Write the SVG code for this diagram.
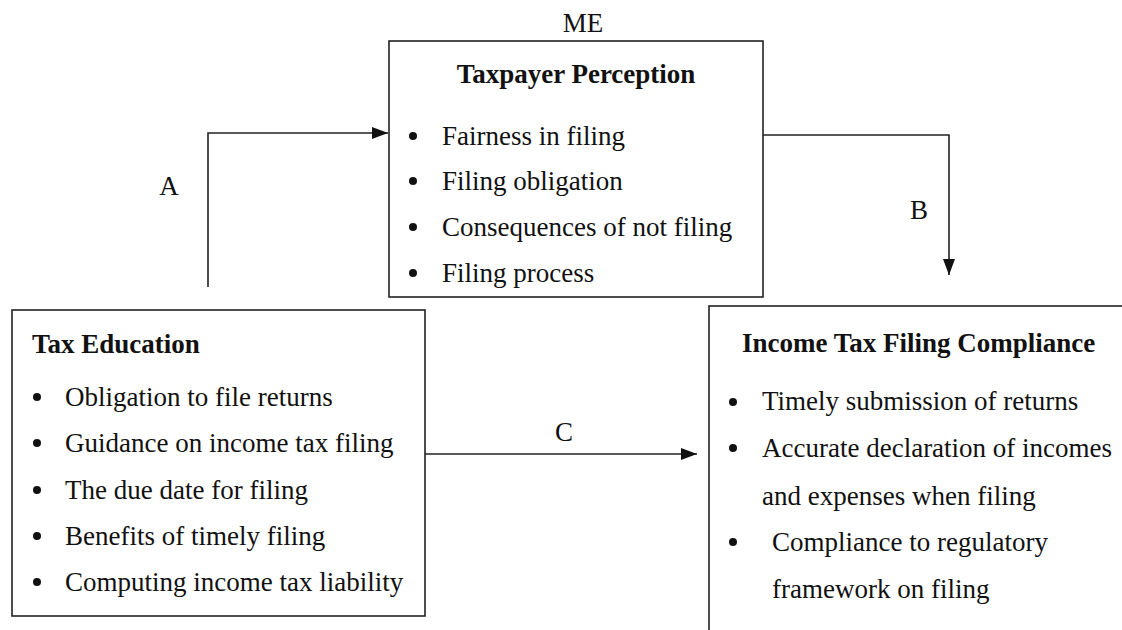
<svg xmlns="http://www.w3.org/2000/svg" width="1122" height="630" viewBox="0 0 1122 630">
<style>
.box{fill:#fff;stroke:#222;stroke-width:1.6}
.t{font-family:"Liberation Serif","Times New Roman",serif;font-size:27px;fill:#111}
.b{font-weight:bold}
.line{fill:none;stroke:#222;stroke-width:1.6}
.dot{fill:#111}
</style>
<defs>
<marker id="ah" viewBox="0 0 16 12" refX="16" refY="6" markerWidth="16" markerHeight="12" markerUnits="userSpaceOnUse" orient="auto">
<path d="M0,0 L16,6 L0,12 Z" fill="#111"/>
</marker>
</defs>
<rect width="1122" height="630" fill="#fff"/>
<g id="connectors">
<path class="line" d="M208,287 V133 H388" marker-end="url(#ah)"/>
<path class="line" d="M763,135 H949 V275" marker-end="url(#ah)"/>
<path class="line" d="M425,454 H697" marker-end="url(#ah)"/>
<text class="t" x="169" y="195" text-anchor="middle">A</text>
<text class="t" x="919" y="219" text-anchor="middle">B</text>
<text class="t" x="564" y="441" text-anchor="middle">C</text>
</g>
<g id="me">
<text class="t" x="583" y="32" text-anchor="middle">ME</text>
</g>
<g id="taxpayer-perception">
<rect class="box" x="389" y="41" width="374" height="256"/>
<text class="t b" x="576" y="83" text-anchor="middle">Taxpayer Perception</text>
<circle class="dot" cx="413" cy="136" r="4"/>
<text class="t" x="442" y="145">Fairness in filing</text>
<circle class="dot" cx="413" cy="181" r="4"/>
<text class="t" x="442" y="190">Filing obligation</text>
<circle class="dot" cx="413" cy="227" r="4"/>
<text class="t" x="442" y="236">Consequences of not filing</text>
<circle class="dot" cx="413" cy="273" r="4"/>
<text class="t" x="442" y="282">Filing process</text>
</g>
<g id="tax-education">
<rect class="box" x="12" y="310" width="413" height="306"/>
<text class="t b" x="32" y="353">Tax Education</text>
<circle class="dot" cx="37" cy="397" r="4"/>
<text class="t" x="65" y="406">Obligation to file returns</text>
<circle class="dot" cx="37" cy="443" r="4"/>
<text class="t" x="65" y="452">Guidance on income tax filing</text>
<circle class="dot" cx="37" cy="490" r="4"/>
<text class="t" x="65" y="499">The due date for filing</text>
<circle class="dot" cx="37" cy="536" r="4"/>
<text class="t" x="65" y="545">Benefits of timely filing</text>
<circle class="dot" cx="37" cy="582" r="4"/>
<text class="t" x="65" y="591">Computing income tax liability</text>
</g>
<g id="income-tax-filing-compliance">
<rect class="box" x="709" y="306" width="500" height="400"/>
<text class="t b" x="742" y="352">Income Tax Filing Compliance</text>
<circle class="dot" cx="733" cy="402" r="4"/>
<text class="t" x="762" y="410">Timely submission of returns</text>
<circle class="dot" cx="733" cy="448" r="4"/>
<text class="t" x="762" y="457">Accurate declaration of incomes</text>
<text class="t" x="762" y="505">and expenses when filing</text>
<circle class="dot" cx="733" cy="542" r="4"/>
<text class="t" x="772" y="551">Compliance to regulatory</text>
<text class="t" x="772" y="598">framework on filing</text>
</g>
</svg>
